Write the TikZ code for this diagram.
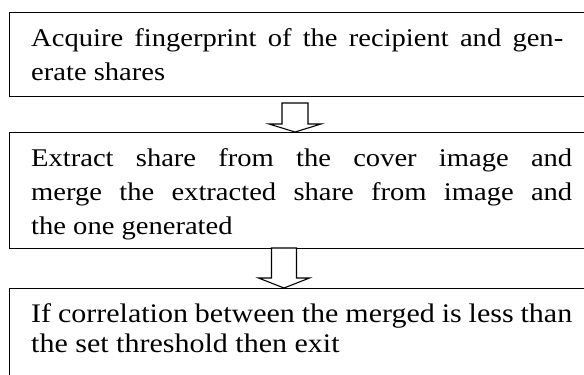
\documentclass[tikz,border=0pt]{standalone}
\usepackage{fontspec}
\setmainfont[FakeStretch=1.12]{Liberation Serif}
\usetikzlibrary{calc}
\tikzset{
  stagebox/.style={draw=black, line width=1.4pt, rectangle, anchor=north west,
    inner sep=0pt, minimum width=591pt},
  stagetext/.style={anchor=base west, inner sep=0pt, text width=#1,
    font=\fontsize{25.5}{34}\selectfont, align=justify},
  bigtext/.style={font=\fontsize{26.8}{30.5}\selectfont},
  blockarrow/.style={draw=black, line width=1.1pt, fill=white, line join=miter}
}
% hollow down arrow: tip, shaft half-width, head half-width, head height, shaft length
\newcommand{\hollowdown}[5]{%
  \draw[blockarrow] #1 -- ++(-#3,-#4) -- ++(#3-#2,0) -- ++(0,-#5)
    -- ++(2*#2,0) -- ++(0,#5) -- ++(#3-#2,0) -- cycle;}
\begin{document}
\begin{tikzpicture}[x=1pt, y=-1pt]
  \useasboundingbox (0,0) rectangle (584,375);

  % three stages
  \node[stagebox, minimum height=84pt] (b1) at (9,12) {};
  \node[stagebox, minimum height=116pt] (b2) at (9,132) {};
  \node[stagebox, minimum height=120pt] (b3) at (9,288) {};

  \node[stagetext=532pt] (t1) at (31,46)
    {\makebox[\linewidth][s]{Acquire fingerprint of the recipient and gen-}\\
     erate shares};
  \node[stagetext=541pt] (t2) at (31,166)
    {\makebox[\linewidth][s]{Extract share from the cover image and}\\
     \makebox[\linewidth][s]{merge the extracted share from image and}\\
     the one generated};
  \node[stagetext=541pt, bigtext] (t3) at (31,322)
    {\makebox[\linewidth][s]{If correlation between the merged is less than}\\
     the set threshold then exit};

  % arrows between stages
  \coordinate (a1) at ($(b2.north west)+(286,0)$);
  \coordinate (a2) at ($(b3.north west)+(275,0)$);
  \hollowdown{(a1)}{13}{26}{8}{21}
  \hollowdown{(a2)}{12.5}{25.5}{10}{30}
\end{tikzpicture}
\end{document}
